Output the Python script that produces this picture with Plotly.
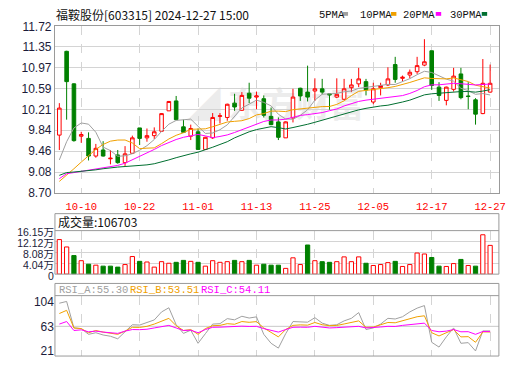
import plotly.graph_objects as go

# ---------------- data ----------------
dates = [
    "2024-09-30", "2024-10-08", "2024-10-09", "2024-10-10", "2024-10-11",
    "2024-10-14", "2024-10-15", "2024-10-16", "2024-10-17", "2024-10-18",
    "2024-10-21", "2024-10-22", "2024-10-23", "2024-10-24", "2024-10-25",
    "2024-10-28", "2024-10-29", "2024-10-30", "2024-10-31", "2024-11-01",
    "2024-11-04", "2024-11-05", "2024-11-06", "2024-11-07", "2024-11-08",
    "2024-11-11", "2024-11-12", "2024-11-13", "2024-11-14", "2024-11-15",
    "2024-11-18", "2024-11-19", "2024-11-20", "2024-11-21", "2024-11-22",
    "2024-11-25", "2024-11-26", "2024-11-27", "2024-11-28", "2024-11-29",
    "2024-12-02", "2024-12-03", "2024-12-04", "2024-12-05", "2024-12-06",
    "2024-12-09", "2024-12-10", "2024-12-11", "2024-12-12", "2024-12-13",
    "2024-12-16", "2024-12-17", "2024-12-18", "2024-12-19", "2024-12-20",
    "2024-12-23", "2024-12-24", "2024-12-25", "2024-12-26", "2024-12-27",
]

opens = [9.75, 11.27, 10.68, 9.73, 9.69, 9.37, 9.48, 9.32, 9.39, 9.25,
         9.42, 9.88, 9.70, 9.74, 9.82, 10.19, 10.37, 9.90, 9.73, 9.81,
         9.49, 9.70, 10.09, 10.07, 10.33, 10.20, 10.51, 10.44, 10.41, 10.09,
         9.99, 9.70, 10.06, 10.60, 10.53, 10.55, 10.59, 10.50, 10.44, 10.40,
         10.61, 10.68, 10.72, 10.35, 10.61, 10.66, 11.03, 10.78, 10.84, 10.90,
         11.02, 11.28, 10.62, 10.38, 10.58, 10.86, 10.46, 10.39, 10.14, 10.53]

highs = [10.33, 11.28, 10.69, 9.81, 9.80, 9.59, 9.64, 9.48, 9.48, 9.55,
         9.74, 9.88, 9.87, 9.89, 10.15, 10.37, 10.46, 10.03, 9.94, 9.87,
         9.72, 10.15, 10.15, 10.32, 10.50, 10.53, 10.70, 10.54, 10.47, 10.25,
         10.07, 10.00, 10.59, 10.61, 11.01, 10.78, 10.77, 10.50, 10.78, 10.77,
         10.77, 10.97, 10.77, 10.70, 10.70, 10.98, 11.17, 10.83, 10.94, 11.17,
         11.49, 11.28, 10.71, 10.63, 10.97, 10.97, 10.71, 10.42, 11.13, 11.03]

lows = [9.48, 10.03, 9.63, 9.61, 9.29, 9.34, 9.36, 9.22, 9.23, 9.19,
        9.41, 9.57, 9.63, 9.68, 9.81, 10.19, 10.02, 9.79, 9.66, 9.48,
        9.48, 9.68, 9.96, 10.01, 10.19, 10.19, 10.33, 10.22, 10.07, 9.93,
        9.66, 9.70, 9.98, 10.37, 10.36, 10.37, 10.49, 10.21, 10.42, 10.39,
        10.53, 10.62, 10.47, 10.31, 10.47, 10.64, 10.70, 10.73, 10.78, 10.86,
        11.00, 10.57, 10.37, 10.29, 10.54, 10.40, 10.22, 9.94, 10.13, 10.52]

closes = [10.24, 10.72, 9.65, 9.76, 9.37, 9.51, 9.37, 9.33, 9.25, 9.41,
          9.70, 9.69, 9.74, 9.81, 10.14, 10.36, 10.03, 9.80, 9.87, 9.49,
          9.71, 10.07, 10.10, 10.31, 10.26, 10.47, 10.42, 10.46, 10.11, 9.94,
          9.71, 9.99, 10.44, 10.46, 10.44, 10.59, 10.53, 10.48, 10.49, 10.59,
          10.66, 10.77, 10.57, 10.59, 10.65, 10.77, 10.76, 10.80, 10.89, 11.01,
          11.08, 10.65, 10.47, 10.62, 10.82, 10.43, 10.45, 10.13, 10.69, 10.69]

volumes = [128300, 100900, 68900, 49900, 36800, 33300, 29700, 29700, 26100, 35600,
           65300, 47500, 45100, 26100, 46300, 40400, 43900, 51100, 47500, 43900,
           29700, 49900, 43900, 46300, 51100, 46300, 51100, 33300, 36800, 33300,
           33300, 21400, 60600, 35600, 108100, 49900, 46300, 43900, 46300, 64100,
           46300, 64100, 40400, 32100, 35600, 42800, 47500, 28500, 35600, 78400,
           74800, 61800, 29700, 28500, 39200, 54600, 32100, 29700, 146100, 106703]

# moving-average values at the start of the window (history before 09-30 not shown)
ma5_lead = [9.30, 9.63, 9.88, 9.97]
ma10_lead = [8.91, 9.02, 9.14, 9.26, 9.38, 9.49, 9.58, 9.64, 9.66]
ma20_lead = [8.96, 9.05, 9.07, 9.09, 9.12, 9.14, 9.16, 9.18, 9.20, 9.24,
             9.30, 9.37, 9.43, 9.49, 9.56, 9.62, 9.67, 9.71, 9.74]
ma30_lead = [9.02, 9.07, 9.08, 9.09, 9.11, 9.12, 9.14, 9.16, 9.17, 9.18,
             9.19, 9.19, 9.21, 9.23, 9.26, 9.30, 9.34, 9.38, 9.41, 9.44,
             9.48, 9.53, 9.58, 9.63, 9.70, 9.76, 9.81, 9.85, 9.88]

rsi_a = [102.0, 105.0, 60.3, 59.2, 49.5, 52.2, 48.4, 46.3, 42.0, 53.8,
         65.7, 65.2, 69.5, 73.8, 87.3, 94.3, 65.7, 51.1, 56.5, 34.4,
         50.6, 66.8, 67.5, 76.0, 74.0, 80.0, 77.0,
         79.0, 49.5, 34.4, 26.3, 50.6, 71.1, 71.1, 70.0, 77.6, 68.4,
         64.6, 65.7, 72.2, 76.5, 86.2, 57.6, 60.3, 66.8, 76.5, 75.4,
         79.2, 87.3, 93.7, 98.0, 36.1, 28.0, 45.2, 60.3, 34.4, 35.5,
         21.5, 55.3, 55.30]

rsi_b = [84.6, 90.0, 60.3, 59.2, 52.2, 56.0, 53.3, 51.1, 49.5, 54.9,
         61.4, 61.2, 63.0, 66.8, 72.2, 76.5, 64.1, 56.0, 57.6, 49.5,
         59.2, 64.1, 64.6, 67.5, 66.5, 71.1, 69.8,
         71.0, 60.3, 52.2, 45.2, 57.6, 64.6, 65.5, 65.0, 69.5, 65.7,
         64.1, 64.5, 67.0, 69.5, 72.2, 61.4, 61.8, 65.7, 69.5, 69.0,
         72.2, 75.4, 79.2, 80.8, 52.2, 46.8, 52.2, 57.6, 45.2, 45.6,
         36.1, 53.6, 53.51]

rsi_c = [66.8, 71.1, 56.0, 57.1, 53.8, 54.9, 53.3, 52.2, 51.1, 54.9,
         57.6, 57.4, 58.1, 60.3, 63.0, 64.6, 60.3, 56.0, 56.5, 52.2,
         57.6, 61.4, 61.6, 62.5, 62.3, 63.3, 62.8,
         63.0, 59.2, 56.0, 53.3, 57.6, 61.4, 61.6, 61.4, 63.0, 61.4,
         60.3, 60.8, 61.9, 62.5, 63.0, 60.3, 60.5, 61.9, 63.0, 62.8,
         64.6, 65.7, 67.3, 68.4, 56.0, 53.8, 54.9, 57.6, 53.8, 54.0,
         49.5, 54.3, 54.11]

tick_dates = ["2024-10-10", "2024-10-22", "2024-11-01", "2024-11-13",
              "2024-11-25", "2024-12-05", "2024-12-17", "2024-12-27"]
tick_text = ["10-10", "10-22", "11-01", "11-13", "11-25", "12-05", "12-17", "12-27"]
price_ticks = [8.70, 9.08, 9.46, 9.84, 10.21, 10.59, 10.97, 11.35, 11.72]
vol_ticks = [0, 40400, 80800, 121200, 161500]
vol_tick_text = ["0", "4.04万", "8.08万", "12.12万", "16.15万"]
rsi_ticks = [21, 63, 104]
title_text = "福鞍股份[603315] 2024-12-27 15:00"
ma_names = ["5PMA", "10PMA", "20PMA", "30PMA"]


# ---------------- derived ----------------
def rolling_mean(vals, n, lead):
    out = list(lead)
    for i in range(len(lead), len(vals)):
        out.append(sum(vals[i - n + 1:i + 1]) / n)
    return out


ma5 = rolling_mean(closes, 5, ma5_lead)
ma10 = rolling_mean(closes, 10, ma10_lead)
ma20 = rolling_mean(closes, 20, ma20_lead)
ma30 = rolling_mean(closes, 30, ma30_lead)

RED = "#ff0000"
GREEN = "#008000"
C5, C10, C20, C30 = "#a0a0a0", "#f0a000", "#ff00ff", "#006f30"
GRID = "#d4d4d4"
BORDER = "#9a9a9a"
LABEL = "#1c1c3a"

up_day = [i == 0 or closes[i] >= closes[i - 1] for i in range(len(closes))]
vol_fill = ["#ffffff" if u else GREEN for u in up_day]
vol_line = [RED if u else GREEN for u in up_day]

# ---------------- layout helpers (pixels -> paper) ----------------
W, H = 520, 365


def fx(p):
    return p / W


def fy(p):
    return 1 - p / H


L, R = 55.7, 505.7

fig = go.Figure()

fig.add_trace(go.Candlestick(
    x=dates, open=opens, high=highs, low=lows, close=closes,
    increasing=dict(line=dict(color=RED, width=1), fillcolor="#ffffff"),
    decreasing=dict(line=dict(color=GREEN, width=1), fillcolor=GREEN),
    whiskerwidth=0, xaxis="x", yaxis="y", showlegend=False, hoverinfo="skip",
))
for vals, col in [(ma5, C5), (ma10, C10), (ma20, C20), (ma30, C30)]:
    fig.add_trace(go.Scatter(x=dates, y=vals, mode="lines",
                             line=dict(color=col, width=1),
                             xaxis="x", yaxis="y", showlegend=False,
                             hoverinfo="skip"))

fig.add_trace(go.Bar(x=dates, y=volumes, width=0.58,
                     marker=dict(color=vol_fill, line=dict(color=vol_line, width=1)),
                     xaxis="x2", yaxis="y2", showlegend=False, hoverinfo="skip"))

for vals, col in [(rsi_a, C5), (rsi_b, C10), (rsi_c, C20)]:
    fig.add_trace(go.Scatter(x=dates, y=vals, mode="lines",
                             line=dict(color=col, width=1),
                             xaxis="x3", yaxis="y3", showlegend=False,
                             hoverinfo="skip"))

xcommon = dict(type="category", range=[-0.6, 60.2], tickmode="array",
               tickvals=tick_dates, ticktext=tick_text, showgrid=True,
               gridcolor=GRID, griddash="dash", gridwidth=1, zeroline=False,
               ticks="", domain=[fx(L), fx(R)])
yfont = dict(family="Liberation Sans, Noto Sans CJK SC", size=12, color=LABEL)
vfont = dict(family="Liberation Sans, Noto Sans CJK SC", size=10.5, color=LABEL)

fig.update_layout(
    width=W, height=H, margin=dict(l=0, r=0, t=0, b=0),
    paper_bgcolor="#ffffff", plot_bgcolor="rgba(0,0,0,0)",
    showlegend=False,
    xaxis=dict(**xcommon, anchor="y", showline=True, mirror=True,
               linecolor=BORDER, linewidth=1, ticklabelstandoff=3,
               tickfont=dict(family="Liberation Mono", size=10.5, color=RED),
               rangeslider=dict(visible=False)),
    yaxis=dict(domain=[fy(194), fy(20.3)], range=[8.699, 11.721],
               tickmode="array", tickvals=price_ticks,
               ticktext=["%.2f" % v for v in price_ticks],
               showgrid=True, gridcolor=GRID, zeroline=False, ticks="",
               showline=True, mirror=True, linecolor=BORDER, linewidth=1,
               tickfont=yfont),
    xaxis2=dict(**xcommon, anchor="y2", matches="x", showticklabels=False,
                showline=False),
    yaxis2=dict(domain=[fy(278.6), fy(233.2)], range=[0, 161500],
                tickmode="array", tickvals=vol_ticks, ticktext=vol_tick_text,
                showgrid=True, gridcolor=GRID, zeroline=False, ticks="",
                showline=False, tickfont=vfont, ticklabelshift=2),
    xaxis3=dict(**xcommon, anchor="y3", matches="x", showticklabels=False,
                showline=False),
    yaxis3=dict(domain=[fy(364), fy(301)], range=[12.9, 114.8],
                tickmode="array", tickvals=rsi_ticks,
                showgrid=False, zeroline=False, ticks="", showline=False,
                tickfont=yfont),
)

shapes = []
# panel boxes
for top, sep, bot in [(215.5, 233.2, 278.6), (288.3, 301.0, 364.0)]:
    shapes.append(dict(type="rect", xref="paper", yref="paper",
                       x0=fx(L), x1=fx(R), y0=fy(bot), y1=fy(top),
                       line=dict(color=BORDER, width=1)))
    shapes.append(dict(type="line", xref="paper", yref="paper",
                       x0=fx(L), x1=fx(R), y0=fy(sep), y1=fy(sep),
                       line=dict(color=BORDER, width=1)))
# RSI mid line
shapes.append(dict(type="line", xref="paper", yref="y3", x0=fx(L), x1=fx(R),
                   y0=rsi_ticks[1], y1=rsi_ticks[1],
                   line=dict(color="#c8c8c8", width=1), layer="below"))
# watermark
shapes.append(dict(type="rect", xref="paper", yref="paper",
                   x0=fx(186), x1=fx(372), y0=fy(124), y1=fy(86),
                   line=dict(width=0), fillcolor="rgba(0,0,0,0)", layer="below",
                   label=dict(text="◢ 东方财富", textposition="middle center",
                              font=dict(family="Noto Sans CJK SC", size=34,
                                        color="#ececec", weight="bold"))))
# legend squares
for x0, col in [(347.3, C5), (396.3, C10), (441.7, C20), (488.3, C30)]:
    shapes.append(dict(type="rect", xref="paper", yref="paper",
                       x0=fx(x0), x1=fx(x0 + 5.5), y0=fy(9.2), y1=fy(5.2),
                       line=dict(width=0), fillcolor=col))
fig.update_layout(shapes=shapes)

ann = []
ann.append(dict(text=title_text, x=fx(55), y=fy(8), xref="paper", yref="paper",
                xanchor="left", yanchor="middle", showarrow=False,
                font=dict(family="Noto Sans CJK SC", size=12, color="#111111")))
for name, xl in zip(ma_names, [321.0, 362.5, 406.0, 454.3]):
    ann.append(dict(text=name, x=fx(xl), y=fy(8), xref="paper", yref="paper",
                    xanchor="left", yanchor="middle", showarrow=False,
                    font=dict(family="Liberation Mono", size=10.5, color="#111111")))
ann.append(dict(text="成交量:%d" % volumes[-1], x=fx(57), y=fy(223.8),
                xref="paper", yref="paper", xanchor="left", yanchor="middle",
                showarrow=False,
                font=dict(family="Noto Sans CJK SC", size=12, color="#111111")))
for lbl, vals, col, xl in [("RSI_A", rsi_a, C5, 57.5), ("RSI_B", rsi_b, C10, 129.5),
                           ("RSI_C", rsi_c, C20, 201.5)]:
    ann.append(dict(text="%s:%.2f" % (lbl, vals[-1]), x=fx(xl), y=fy(295),
                    xref="paper", yref="paper", xanchor="left", yanchor="middle",
                    showarrow=False,
                    font=dict(family="Liberation Mono", size=10.5, color=col)))
fig.update_layout(annotations=ann)

fig.write_html("out.html", config={"displayModeBar": False})
